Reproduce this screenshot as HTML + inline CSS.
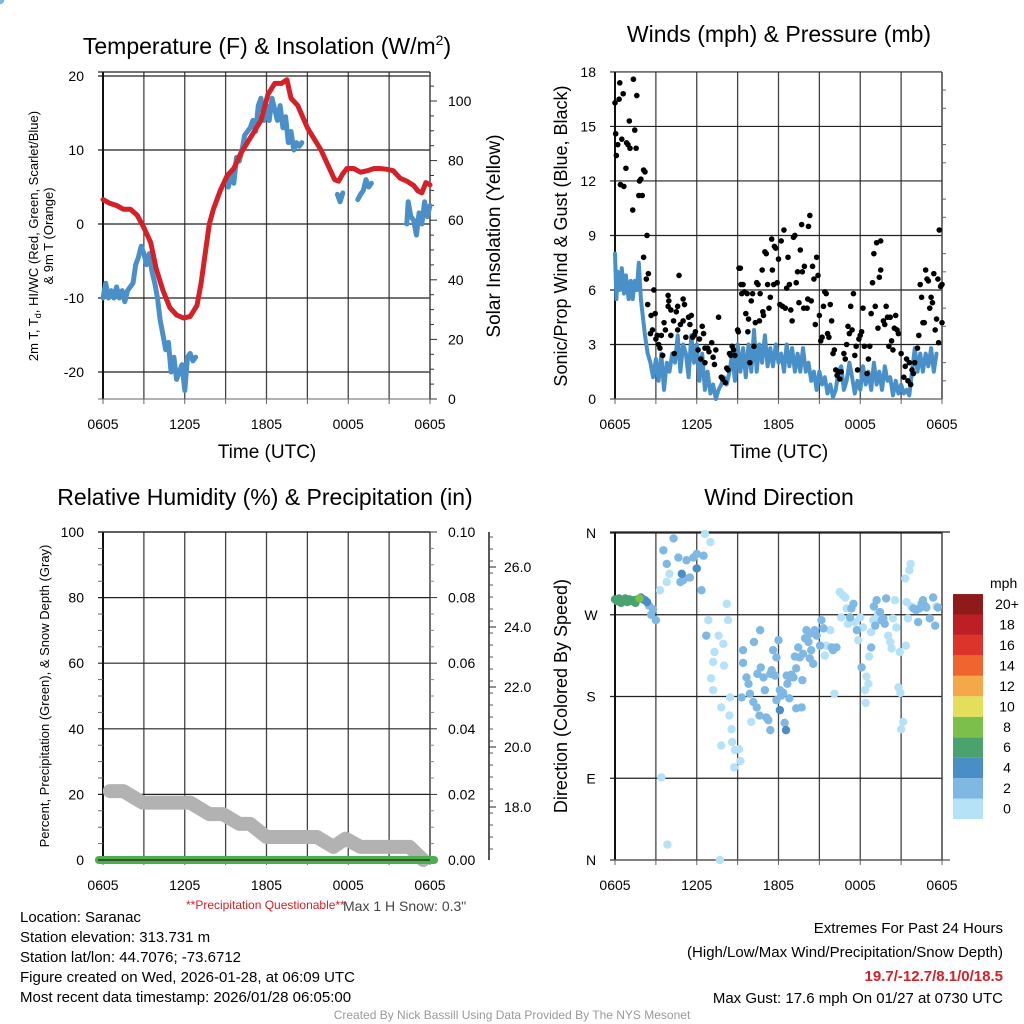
<!DOCTYPE html>
<html><head><meta charset="utf-8"><style>
body{margin:0;background:#fff}
svg{display:block;font-family:"Liberation Sans",Arial,sans-serif}
</style></head><body>
<svg id="c" width="1024" height="1024" viewBox="0 0 1024 1024" xmlns="http://www.w3.org/2000/svg">
<rect width="1024" height="1024" fill="#fff"/>
<g id="g1"></g>
<g id="g2"></g>
<g id="g3"></g>
<g id="g4"></g>
<text x="267" y="54" font-size="23" text-anchor="middle">Temperature (F) &amp; Insolation (W/m<tspan dy="-9" font-size="14">2</tspan><tspan dy="9">)</tspan></text>
<text x="779" y="42" font-size="23" text-anchor="middle">Winds (mph) &amp; Pressure (mb)</text>
<text x="265" y="505" font-size="23" text-anchor="middle">Relative Humidity (%) &amp; Precipitation (in)</text>
<text x="779" y="505" font-size="23" text-anchor="middle">Wind Direction</text>
<text x="38" y="236" font-size="13" text-anchor="middle" transform="rotate(-90 38 236)">2m T, T<tspan font-size="9" dy="3">d</tspan><tspan dy="-3">, HI/WC (Red, Green, Scarlet/Blue)</tspan></text>
<text x="53" y="236" font-size="13" text-anchor="middle" transform="rotate(-90 53 236)">&amp; 9m T (Orange)</text>
<text x="500" y="236" font-size="19" text-anchor="middle" transform="rotate(-90 500 236)">Solar Insolation (Yellow)</text>
<text x="567" y="236" font-size="18" text-anchor="middle" transform="rotate(-90 567 236)">Sonic/Prop Wind &amp; Gust (Blue, Black)</text>
<text x="49" y="696" font-size="13" text-anchor="middle" transform="rotate(-90 49 696)">Percent, Precipitation (Green), &amp; Snow Depth (Gray)</text>
<text x="567" y="696" font-size="18" text-anchor="middle" transform="rotate(-90 567 696)">Direction (Colored By Speed)</text>
<text x="267" y="458" font-size="19" text-anchor="middle">Time (UTC)</text>
<text x="779" y="458" font-size="19" text-anchor="middle">Time (UTC)</text>
<text x="186" y="909" font-size="12" fill="#d62027">**Precipitation Questionable**</text>
<text x="343" y="911" font-size="14" fill="#444">Max 1 H Snow: 0.3"</text>
<g font-size="15">
<text x="20" y="922">Location: Saranac</text>
<text x="20" y="942">Station elevation: 313.731 m</text>
<text x="20" y="962">Station lat/lon: 44.7076; -73.6712</text>
<text x="20" y="982">Figure created on Wed, 2026-01-28, at 06:09 UTC</text>
<text x="20" y="1002">Most recent data timestamp: 2026/01/28 06:05:00</text>
</g>
<g font-size="15" text-anchor="end">
<text x="1003" y="933">Extremes For Past 24 Hours</text>
<text x="1003" y="957">(High/Low/Max Wind/Precipitation/Snow Depth)</text>
<text x="1003" y="981" fill="#d62027" font-weight="bold">19.7/-12.7/8.1/0/18.5</text>
<text x="1003" y="1003">Max Gust: 17.6 mph On 01/27 at 0730 UTC</text>
</g>
<text x="512" y="1019" font-size="12" fill="#999" text-anchor="middle">Created By Nick Bassill Using Data Provided By The NYS Mesonet</text>
</svg>
<script>
const timeLabels=["0605","1205","1805","0005","0605"];
const tempTicks=[-20,-10,0,10,20];
const insolTicks=[0,20,40,60,80,100];
const windTicks=[0,3,6,9,12,15,18];
const rhTicks=[0,20,40,60,80,100];
const precipTicks=["0.00","0.02","0.04","0.06","0.08","0.10"];
const snowTicks=[18,20,22,24,26];
const dirLabels=["N","E","S","W","N"];
const speedBins=["0","2","4","6","8","10","12","14","16","18","20+"];
const speedColors=["#b5e2f7","#7fb8e3","#4a8ec6","#4aa36e","#7cc04c","#e4df5a","#f4a84a","#ee6530","#dc342b","#be1e25","#8e1a1a"];

const tempHours=[0,0.5,1,1.5,2,2.5,3,3.5,3.9,4.4,4.9,5.4,5.9,6.4,6.9,7.2,7.5,7.8,8.1,8.6,9.1,9.6,10.1,10.6,11.1,11.6,12.1,12.6,13.1,13.5,13.8,14.3,15,15.5,16,16.5,17,17.3,17.6,17.9,18.4,18.9,19.4,19.9,20.3,20.8,21.3,21.8,22.3,22.8,23.1,23.4,23.7,24];
const tempValues=[3.3,2.8,2.5,2,2,1.2,-0.5,-2.5,-6,-9,-11.3,-12.3,-12.7,-12.5,-11,-8,-4,0,2,4.5,6.5,7.5,9.5,11,12.5,14,17.5,19,19,19.5,17,16,13,11.5,10,8,6,5.8,6.8,7.5,7.5,7,7.2,7.5,7.5,7.4,7.2,6.2,5.8,5.2,4.5,4.2,5.6,5.3];
const dewSegments=[
 [[0,-10],[0.2,-8],[0.4,-10],[0.6,-9],[0.8,-10],[1,-8.5],[1.2,-10],[1.4,-9],[1.6,-10.5],[1.8,-9],[2,-8.5],[2.2,-8],[2.4,-5.5],[2.6,-4.5],[2.8,-3],[3,-4],[3.2,-5.5],[3.4,-4],[3.6,-6.5],[3.8,-8],[4,-10],[4.2,-13],[4.4,-15],[4.6,-17],[4.8,-16],[5,-20],[5.2,-18],[5.4,-21],[5.6,-20],[5.8,-19],[6,-22.5],[6.2,-18],[6.4,-17.5],[6.6,-18.5],[6.8,-18]],
 [[9.2,5],[9.4,7],[9.6,5.5],[9.8,9],[10,8.5],[10.2,10],[10.4,12],[10.6,12.5],[10.8,13],[11,14],[11.2,12.5],[11.4,16],[11.6,17],[11.8,14],[12,16],[12.2,14],[12.4,17],[12.6,15.5],[12.8,14],[13,16],[13.2,13],[13.4,14.5],[13.6,11],[13.8,12.5],[14,10],[14.2,11],[14.4,10.5],[14.6,11]],
 [[17.2,4],[17.4,3],[17.6,4.2]],
 [[18.7,3.3],[18.9,4],[19.1,4.5],[19.3,6],[19.5,5],[19.7,5.5]],
 [[22.3,0],[22.4,3],[22.6,1],[22.8,0.5],[23,-1.5],[23.2,1.5],[23.4,0],[23.6,3],[23.8,1],[24,2.5]]
];
const windHours=[0,0.1,0.2,0.35,0.5,0.65,0.8,1,1.15,1.3,1.45,1.6,1.75,1.9,2.05,2.2,2.4,2.6,2.8,3,3.2,3.4,3.6,3.8,4,4.2,4.4,4.6,4.8,5,5.2,5.4,5.6,5.8,6,6.2,6.4,6.6,6.8,7,7.2,7.4,7.6,7.8,8,8.2,8.4,8.6,8.8,9,9.2,9.4,9.6,9.8,10,10.2,10.4,10.6,10.8,11,11.2,11.4,11.6,11.8,12,12.2,12.4,12.6,12.8,13,13.2,13.4,13.6,13.8,14,14.2,14.4,14.6,14.8,15,15.2,15.4,15.6,15.8,16,16.2,16.4,16.6,16.8,17,17.2,17.4,17.6,17.8,18,18.2,18.4,18.6,18.8,19,19.2,19.4,19.6,19.8,20,20.2,20.4,20.6,20.8,21,21.2,21.4,21.6,21.8,22,22.2,22.4,22.6,22.8,23,23.2,23.4,23.6,23.8,24];
const windValues=[8,5.5,7,6,7.2,5.8,6.8,5.5,6.5,5.5,6.5,6,7.5,5.5,4.5,3.5,2.5,2,1.2,2.2,1,2.5,0.5,2,1.5,2.5,2,3.5,1.5,3,2.5,1.2,3.5,2,3,1,2.5,0.5,1.5,0.3,0.8,0,0.5,0.8,1.2,0.8,1.5,2.5,1,3,1.5,2.8,1.2,3,1.5,3.8,1.5,3,2,3.5,1.8,2.8,1.8,3,2,2.5,1.5,3,1.8,2.8,1.5,2.5,1.5,2.8,1.5,2,1,1.5,0.5,1.5,0.8,1.2,0.3,0.8,0.1,0.5,1.5,1.8,0.5,1,2,1.2,0.3,1,0.5,1.8,0.8,1.5,0.5,2,0.8,1.5,0.5,1.8,1,1.2,0.2,1,0.3,0.8,0.3,0.5,0.2,1.5,2.8,1.5,2.5,1.5,2.5,1.8,2.8,1.5,2.5];
const gustHours=[0,0.05,0.1,0.2,0.3,0.35,0.4,0.5,0.6,0.65,0.8,0.85,0.95,1.05,1.1,1.3,1.35,1.45,1.55,1.6,1.75,1.8,1.9,2.0,2.1,2.2,2.1,2.3,2.35,2.45,2.4,2.6,2.65,2.75,2.85,2.95,3.0,3.1,3.2,3.3,3.4,3.5,3.6,3.7,3.9,3.9,3.95,4.1,4.1,4.3,4.35,4.5,4.6,4.6,4.7,4.8,5,5,5.1,5.2,5.4,5.5,5.6,5.7,5.8,5.9,6.1,6.2,6.3,6.4,6.5,6.6,6.6,6.8,6.9,7.1,7.2,7.3,7.4,7.6,7.8,7.9,8.1,8.2,8.3,8.4,8.5,8.6,8.7,8.8,9.0,9.05,9.1,9.2,9.25,9.3,9.4,9.5,9.6,9.7,9.75,9.8,9.9,10,10.1,10.2,10.3,10.4,10.5,10.6,10.65,10.8,10.85,10.9,11,11.1,11.2,11.3,11.4,11.5,11.55,11.65,11.7,11.8,11.9,12,12.1,12.2,12.3,12.4,12.5,12.6,12.7,12.8,12.9,13,13.1,13.2,13.3,13.4,13.5,13.6,13.7,13.75,13.85,13.9,14.1,14.15,14.2,14.3,14.4,14.5,14.6,14.7,14.8,14.9,15.0,15.1,15.2,15.3,15.4,15.5,15.6,15.7,15.8,15.9,16,16.1,16.2,16.3,16.4,16.5,16.6,16.8,16.9,17,17.1,17.2,17.3,17.4,17.5,17.6,17.7,17.8,17.9,18,18.1,18.2,18.3,18.5,18.6,18.7,18.8,18.9,19,19.1,19.2,19.3,19.4,19.5,19.5,19.7,19.8,19.9,20.0,20.1,20.2,20.3,20.4,20.5,20.6,20.7,20.8,21,21.2,21.3,21.4,21.5,21.6,21.7,21.8,21.9,22,22.2,22.3,22.4,22.5,22.6,22.7,22.8,22.9,23,23.1,23.2,23.3,23.4,23.5,23.6,23.7,23.75,23.8,23.9,24,24];
const gustValues=[16.3,14.6,13.4,14,16.5,17.4,11.8,14.3,16.8,11.7,12.7,14.1,14,15.3,13.8,10.4,17.6,14.8,13.8,16.7,11.2,12,12.1,11.2,12.6,12.5,7.8,6.6,9,6.9,5.2,3.6,4.6,3.8,6,4.7,3.3,3.5,3,2.8,3.5,2.4,4.2,3.8,5.1,5.7,5.4,4.9,3.5,4.3,2.5,4.8,5.1,3.8,6.8,4.1,4.3,5.5,5.2,3.4,4.5,4.1,4.6,3.4,3.5,3.7,2.7,3.3,2.2,4,3.6,2.8,2,2.8,2.6,3.1,2.3,1.9,2.7,4.5,1.2,1.1,0.9,1.7,1.6,2.5,2.4,2.9,2.7,2.4,3.8,3.7,7.2,7.2,6.3,5.8,6.3,5.9,4.7,5.8,3.7,4.4,2,5.4,5.8,2.9,4.2,6.4,6.3,4.3,5.8,7.1,4.8,4.6,8.1,8,6.3,5,5.6,8.8,7.1,6.3,8.4,8.3,6.4,7.7,5.2,8.7,5.1,9.3,5,6.1,7.8,6.3,4.9,4.3,8.9,9,6.4,7,5.3,8.2,9.6,7,5,7.3,5,5.5,9.5,10.1,5.4,7.3,6.6,4.1,7.8,6.8,4.6,3.2,3.4,5.1,5.9,5.8,3.6,3.4,5.2,4.3,2.5,2.7,1.6,1.3,1.5,1.1,1.5,2.5,2.2,3,4,3.6,5.1,3.8,5.8,2.4,2.9,1.6,3.3,3.5,3.7,5,2.9,1.4,2.2,2.9,4.7,6.4,8,5.1,8.6,3.9,6.7,7.1,8.7,4.3,4.1,5.1,4.5,2.9,4.5,3.2,2.7,3.9,4.6,3.8,3.6,2.5,1.2,1.8,2.2,1,2,0.8,1.6,1.4,2,2.8,3.5,6.3,5.6,4.2,4.2,7.1,6.6,6.5,5,5.6,5.3,6.9,3.8,4.4,6.6,3.1,9.3,6.2,4.2,6.3];
const snowHours=[0.5,1.5,2.9,6.4,7.8,8.8,10,10.8,12,15.7,16.9,17.8,18.9,22.5,23.5];
const snowPercent=[21,21,17.5,17.5,14,14,11,11,7,7,4,6.5,4,4,0];
const precipHours=[-0.3,24.3];
const precipValues=[0,0];
const dirHours=[0,0.15,0.3,0.45,0.6,0.75,0.9,1.05,1.2,1.35,1.5,1.65,1.8,1.9,2.05,2.2,2.35,2.5,2.65,2.8,3.0,
3.3,3.55,3.8,4.3,4.65,4.9,5.0,5.25,5.5,5.75,6.0,6.0,6.35,6.5,6.6,7.0,3.8,4.0,4.8,5.1,3.4,3.85,
6.7,6.85,7.2,7.3,7.6,7.7,7.95,8.0,8.2,8.3,7.05,7.2,7.8,7.8,8.45,8.4,8.55,8.6,8.8,8.75,9.1,9.2,
9.3,9.4,9.4,9.65,9.8,9.9,10.0,10.15,10.2,10.4,10.45,10.6,10.65,10.7,10.9,11.0,11.1,11.25,11.4,11.4,11.5,11.6,11.75,11.85,11.85,12.0,12.1,12.1,12.2,12.35,12.45,12.55,12.6,12.65,12.8,12.85,12.95,13.1,13.2,13.3,13.3,13.45,13.55,13.7,13.75,13.8,13.95,14.05,14.2,14.3,14.3,14.4,14.55,14.65,14.8,15.05,15.15,15.3,15.4,15.5,15.8,15.9,16.0,16.1,16.25,16.5,16.6,16.75,16.9,17.0,17.1,17.25,17.35,17.5,17.6,17.75,17.85,18.0,18.1,18.2,18.35,18.4,18.45,18.6,18.65,18.8,18.8,18.95,19.0,19.1,19.2,19.3,19.45,19.55,19.7,19.8,19.9,20.05,20.2,20.3,20.4,20.55,20.65,20.8,20.9,20.95,21.0,21.15,21.3,21.35,21.4,21.5,21.6,21.7,21.75,21.9,22.1,22.25,22.35,22.5,22.6,22.75,22.85,23.1,23.35,23.5,23.6,23.7];
const dirDegrees=[287,285,288,283,286,288,284,287,285,286,283,287,288,289,287,286,284,280,270,276,264,
297,341,326,354,333,315,308,330,311,333,337,321,297,335,359,350,306,315,306,310,91,17,
247,264,218,229,247,0,238,214,282,264,200,187,168,126,179,159,144,130,121,102,122,109,
179,231,217,201,194,183,152,174,240,168,205,159,253,212,201,187,157,154,143,205,209,231,203,176,223,242,165,187,181,184,151,143,203,194,178,201,204,201,224,167,211,234,223,168,198,227,244,253,240,249,222,231,216,253,247,236,264,255,225,236,253,234,231,183,234,295,267,291,289,277,260,267,277,282,262,253,242,267,212,256,187,173,202,194,224,251,234,264,279,258,286,271,273,264,266,260,288,247,240,233,266,286,256,190,229,184,144,152,310,236,284,266,319,326,279,277,275,262,277,282,286,280,278,266,289,258,279,278];
const dirSpeeds=[7,7,6.5,7,6,7,6,6.5,7,6,6.5,7,8,4.5,4.5,4.5,4.5,3,3,3,3,
1,3,3,3,3,4.5,3,3,3,3,3,4.5,3,3,1,1,1,1,3,3,1,1,
3,1,1,1,1,1,1,1,1,1,1,1,1,1,1,1,1,1,1,1,1,1,
3,3,3,3,3,3,1,3,3,3,3,3,3,3,3,3,3,3,3,3,3,3,3,3,3,3,4.5,3,3,3,3,4.5,3,3,3,3,3,3,3,3,3,3,3,3,3,3,3,3,3,3,3,3,3,3,3,3,3,3,1,1,1,3,3,1,3,1,1,1,1,1,1,3,3,3,1,3,1,1,3,1,1,1,1,1,1,1,3,1,3,3,3,1,3,3,3,3,3,1,1,1,1,1,1,1,1,1,1,1,1,1,1,1,1,1,1,3,3,3,3,3,3,3,3,3,3,3,1,3,3,3];

const NS='http://www.w3.org/2000/svg';
function mk(parent,tag,attrs,txt){const e=document.createElementNS(NS,tag);for(const k in attrs)e.setAttribute(k,attrs[k]);if(txt!==undefined)e.textContent=txt;parent.appendChild(e);return e;}
const W=327;
function sx(x0){return h=>x0+h*W/24;}
function frame(g,x0,y0,y1,gridYs){
  const s=sx(x0);
  for(let i=1;i<8;i++){const gl=mk(g,'line',{x1:s(i*3),x2:s(i*3),y1:y0-10,y2:y1,stroke:'#444','stroke-width':1.3});
    
    }
  gridYs.forEach(y=>{const gl=mk(g,'line',{x1:x0-5,x2:x0+W,y1:y,y2:y,stroke:'#222','stroke-width':1.2});
    
    });
  mk(g,'line',{x1:x0,x2:x0,y1:y0-10,y2:y1,stroke:'#111','stroke-width':2});
  mk(g,'line',{x1:x0+W,x2:x0+W,y1:y0-10,y2:y1,stroke:'#444','stroke-width':1.5});
  mk(g,'line',{x1:x0-5,x2:x0+W,y1:y1,y2:y1,stroke:'#666','stroke-width':1});
  for(let i=0;i<=8;i++) mk(g,'line',{x1:s(i*3),x2:s(i*3),y1:y1,y2:y1+5,stroke:'#666','stroke-width':1});
  timeLabels.forEach((t,i)=>{const tl=mk(g,'text',{x:s(i*6),y:y1+30,'font-size':14,'text-anchor':'middle'},t);
    
    });
  return s;
}
function line(g,pts,color,w){return mk(g,'path',{d:pts.map((p,i)=>(i?'L':'M')+p[0].toFixed(1)+','+p[1].toFixed(1)).join(''),fill:'none',stroke:color,'stroke-width':w,'stroke-linejoin':'round','stroke-linecap':'round'});}

// Panel 1
const g1=document.getElementById('g1');
const yT=v=>224-v*7.4, yI=v=>399-v*2.98;
const s1=frame(g1,103,82,399,tempTicks.map(yT));
mk(g1,'line',{x1:98,x2:430,y1:72,y2:72,stroke:'#222','stroke-width':1.2});
tempTicks.forEach(v=>{const t=mk(g1,'text',{x:84,y:yT(v)+5,'font-size':14,'text-anchor':'end'},v);
  
  });
for(let v=0;v<=105;v+=5) mk(g1,'line',{x1:430,x2:v%20?434:437,y1:yI(v),y2:yI(v),stroke:'#333','stroke-width':1});
insolTicks.forEach(v=>{const t=mk(g1,'text',{x:448,y:yI(v)+5,'font-size':14},v);
  
  });
dewSegments.forEach(seg=>{const p=line(g1,seg.map(d=>[s1(d[0]),yT(d[1])]),'#4a8fc8',5);
  
  });
const tl=line(g1,tempHours.map((h,i)=>[s1(h),yT(tempValues[i])]),'#d62027',5);



// Panel 2
const g2=document.getElementById('g2');
const yW=v=>399-v*18.17;
const s2=frame(g2,615,82,399,windTicks.map(yW));
windTicks.forEach(v=>{const t=mk(g2,'text',{x:596,y:yW(v)+5,'font-size':14,'text-anchor':'end'},v);
  
  });
for(let v=1;v<18;v++) if(v%3) mk(g2,'line',{x1:942,x2:946,y1:yW(v),y2:yW(v),stroke:'#666','stroke-width':1});
const wl=line(g2,windHours.map((h,i)=>[s2(h),yW(windValues[i])]),'#4a90c8',4);


gustHours.forEach((h,i)=>{const c=mk(g2,'circle',{cx:s2(h),cy:yW(gustValues[i]),r:2.8,fill:'#000'});
  
  });

// Panel 3
const g3=document.getElementById('g3');
const yH=v=>860-v*3.28;
const s3=frame(g3,103,542,860,rhTicks.map(yH));
mk(g3,'line',{x1:98,x2:430,y1:532,y2:532,stroke:'#222','stroke-width':1.2});
rhTicks.forEach(v=>{const t=mk(g3,'text',{x:84,y:yH(v)+5,'font-size':14,'text-anchor':'end'},v);
  
  });
for(let v=0;v<=100;v+=5) if(v%20) mk(g3,'line',{x1:98,x2:103,y1:yH(v),y2:yH(v),stroke:'#666','stroke-width':1});
precipTicks.forEach((t,i)=>{const y=yH(i*20);mk(g3,'line',{x1:430,x2:437,y1:y,y2:y,stroke:'#333','stroke-width':1});
  const e=mk(g3,'text',{x:448,y:y+5,'font-size':14},t);
  
  });
for(let v=0;v<=100;v+=5) if(v%20) mk(g3,'line',{x1:430,x2:434,y1:yH(v),y2:yH(v),stroke:'#888','stroke-width':1});
mk(g3,'line',{x1:489,x2:489,y1:532,y2:860,stroke:'#222','stroke-width':1.5});
const ySn=v=>807-(v-18)*30;
for(let v=16.6;v<=27;v+=0.4){const y=ySn(v);if(y>=532&&y<=858)mk(g3,'line',{x1:489,x2:493,y1:y,y2:y,stroke:'#555','stroke-width':1});}
snowTicks.forEach(v=>{mk(g3,'line',{x1:489,x2:496,y1:ySn(v),y2:ySn(v),stroke:'#222','stroke-width':1});
  const e=mk(g3,'text',{x:504,y:ySn(v)+5,'font-size':14},v.toFixed(1));
  
  });
const sl=line(g3,snowHours.map((h,i)=>[s3(h),yH(snowPercent[i])]),'#b2b2b2',14);


const pl=line(g3,precipHours.map((h,i)=>[s3(h),yH(precipValues[i]*1000)]),'#4cae4c',8);


mk(g3,'line',{x1:98,x2:430,y1:860,y2:860,stroke:'#222','stroke-width':1.2});

// Panel 4
const g4=document.getElementById('g4');
const yD=d=>860-d*0.9083;
const s4=frame(g4,615,542,860,[0,90,180,270,360].map(yD));
mk(g4,'line',{x1:610,x2:950,y1:532,y2:532,stroke:'#222','stroke-width':1.2});
mk(g4,'line',{x1:610,x2:950,y1:860,y2:860,stroke:'#555','stroke-width':1.2});
dirLabels.forEach((l,i)=>{const t=mk(g4,'text',{x:591,y:yD(i*90)+5,'font-size':14,'text-anchor':'middle'},l);
  
  });
function col(sp){return speedColors[Math.min(10,Math.floor(sp/2))];}
const order=dirSpeeds.map((s,i)=>i).sort((a,b)=>dirSpeeds[a]-dirSpeeds[b]);
order.forEach(i=>{const c=mk(g4,'circle',{cx:s4(dirHours[i]),cy:yD(dirDegrees[i]),r:4.2,fill:col(dirSpeeds[i])});
  
  });
// colorbar
const cb=mk(g4,'g',{});


mk(cb,'text',{x:990,y:588,'font-size':14},'mph');
speedBins.forEach((b,i)=>{const y=819-(i+1)*20.45;
  const r=mk(cb,'rect',{x:953,y:y,width:30,height:20.45,fill:speedColors[i]});
  
  
  const t=mk(cb,'text',{x:1007,y:y+15,'font-size':14,'text-anchor':'middle'},b);
  
  });
</script>
</body></html>
